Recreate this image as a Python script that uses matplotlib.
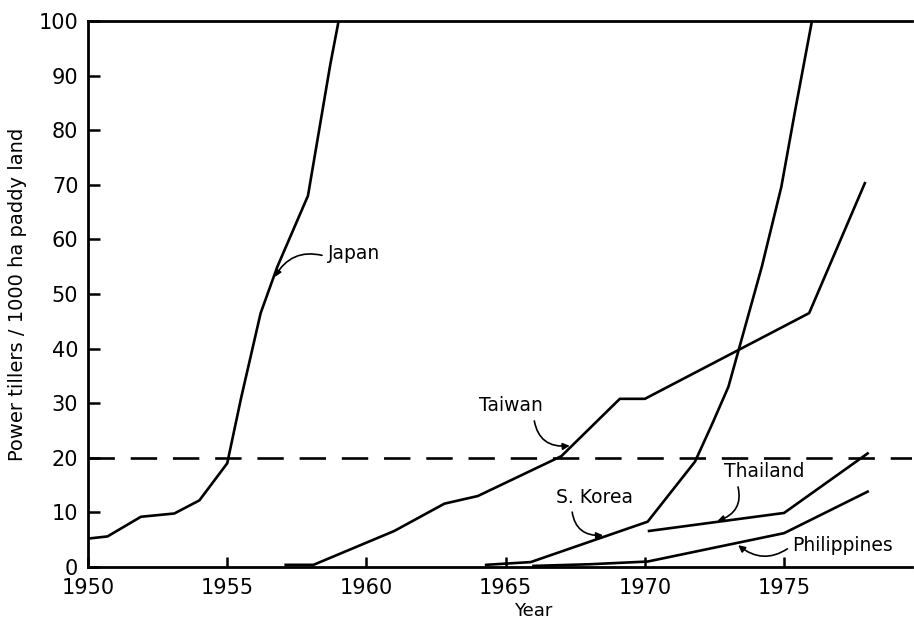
import matplotlib.pyplot as plt
import numpy as np

# values (year, power tillers / 1000 ha)
japan_x = [1950, 1950.7, 1951.9, 1953.1, 1954.0, 1955.0, 1955.5, 1956.2, 1956.8, 1957.9, 1958.3, 1958.7, 1959.0]
japan_y = [5.2, 5.6, 9.2, 9.8, 12.2, 19.0, 31.0, 46.5, 55.0, 68.0, 80.0, 92.0, 100.0]

taiwan_x = [1957.1, 1958.1, 1961.0, 1962.8, 1964.0, 1967.0, 1969.1, 1970.0, 1975.9, 1977.9]
taiwan_y = [0.4, 0.4, 6.6, 11.6, 13.0, 20.3, 30.8, 30.8, 46.5, 70.3]

korea_x = [1964.3, 1965.9, 1970.1, 1971.8, 1972.4, 1973.0, 1973.6, 1974.2, 1974.9, 1975.4, 1976.0]
korea_y = [0.4, 0.9, 8.3, 19.3, 26.0, 33.0, 44.0, 55.0, 69.6, 83.7, 100.0]

thai_x = [1970.15, 1975.0, 1978.0]
thai_y = [6.6, 9.9, 20.8]

phil_x = [1966.0, 1968.0, 1970.1, 1975.0, 1978.0]
phil_y = [0.2, 0.5, 1.0, 6.2, 13.8]

threshold = 20
xticks = [1950, 1955, 1960, 1965, 1970, 1975]
yticks = list(range(0, 101, 10))

plt.rcParams['font.family'] = ['DejaVu Sans']

fig = plt.figure(figsize=(9.14, 6.25), dpi=100)
ax = fig.add_axes([0.0963, 0.0928, 0.9017, 0.8736])

lw = 1.9
for xs, ys in [(japan_x, japan_y), (taiwan_x, taiwan_y), (korea_x, korea_y),
               (thai_x, thai_y), (phil_x, phil_y)]:
    ax.plot(xs, ys, color='black', lw=lw, solid_joinstyle='round')

dash = ax.axhline(threshold, color='black', lw=lw)
dash.set_dashes([10, 6])

# labels with curly arrows
arrow = dict(arrowstyle='-|>', color='black', lw=1.2, mutation_scale=10,
             shrinkA=2, shrinkB=0)
fs = 13.5
ax.annotate('Japan', xy=(1956.7, 53.1), xytext=(1958.6, 57.5),
            fontsize=fs, va='center', ha='left',
            arrowprops=dict(arrow, connectionstyle='arc3,rad=0.4', relpos=(0.0, 0.3)))
ax.annotate('Taiwan', xy=(1967.3, 22.2), xytext=(1965.2, 29.5),
            fontsize=fs, va='center', ha='center',
            arrowprops=dict(arrow, connectionstyle='arc3,rad=0.5', relpos=(0.85, 0.0)))
ax.annotate('S. Korea', xy=(1968.5, 5.8), xytext=(1968.2, 12.8),
            fontsize=fs, va='center', ha='center',
            arrowprops=dict(arrow, connectionstyle='arc3,rad=0.5', relpos=(0.2, 0.0)))
ax.annotate('Thailand', xy=(1972.6, 8.4), xytext=(1974.3, 17.4),
            fontsize=fs, va='center', ha='center',
            arrowprops=dict(arrow, connectionstyle='arc3,rad=-0.5', relpos=(0.15, 0.0)))
ax.annotate('Philippines', xy=(1973.35, 4.0), xytext=(1975.3, 4.0),
            fontsize=fs, va='center', ha='left',
            arrowprops=dict(arrow, connectionstyle='arc3,rad=-0.4', relpos=(0.0, 0.5)))

ax.set_xlim(1950, 1979.6)
ax.set_ylim(0, 100)
ax.set_xticks(xticks)
ax.set_yticks(yticks)
ax.tick_params(axis='both', direction='in', width=1.8, labelsize=15)
ax.tick_params(axis='y', length=8.5, pad=7)
ax.tick_params(axis='x', length=7, pad=8)

ax.spines['right'].set_visible(False)
for s in ['left', 'bottom', 'top']:
    ax.spines[s].set_linewidth(2.0)

ax.set_xlabel('Year', fontsize=13)
ax.xaxis.set_label_coords(0.54, -0.064)
ax.set_ylabel('Power tillers / 1000 ha paddy land', fontsize=14, labelpad=8)

plt.savefig('out.png', dpi=100)
